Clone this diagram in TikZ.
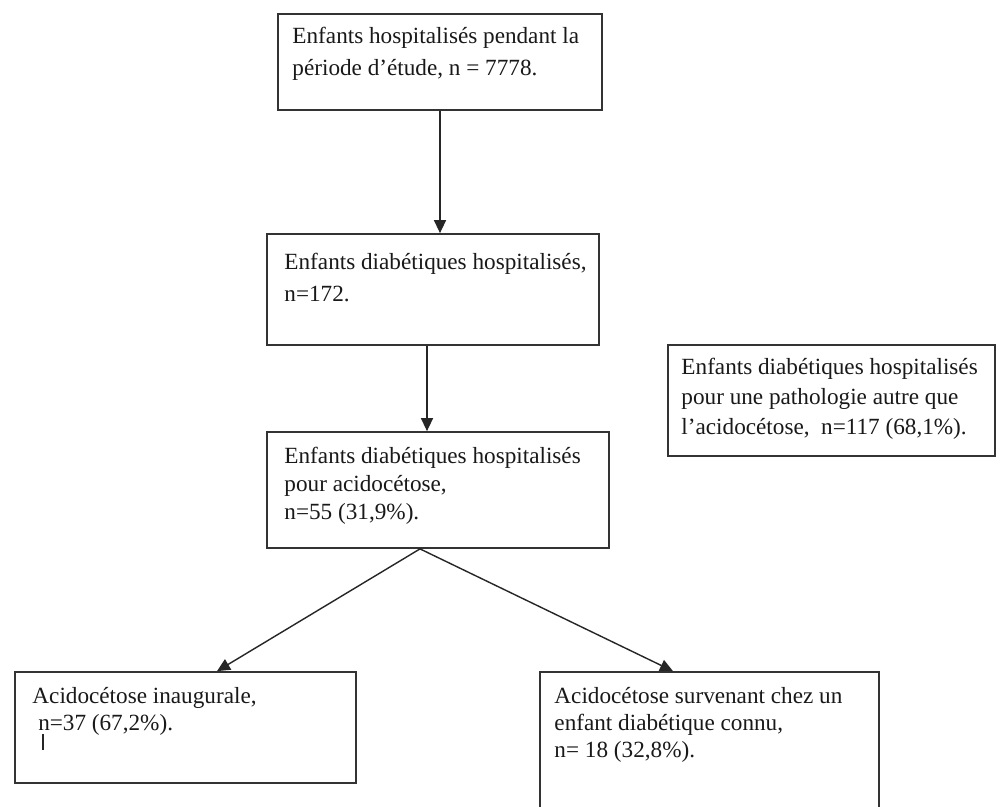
\documentclass[tikz,border=0pt]{standalone}
\usepackage{fontspec}
\setmainfont{Liberation Serif}
\usetikzlibrary{fit,arrows.meta}
\newcommand{\flowbox}[6][]{
    \node[draw=black!80, line width=1pt, inner sep=0pt, fit={(#3) (#4)}] (#2) {};
    \node[anchor=north west, inner sep=0pt, align=left, text=black!90, font=\fontsize{13.2}{16}\selectfont, #1] (#2-text) at ([shift={(#5)}]#2.north west) {#6};
}
\tikzset{flowarrow/.style={draw=black!85, line width=0.8pt, -{Triangle[length=0.26cm,width=0.24cm]}}}

\begin{document}
\begin{tikzpicture}[x=0.02cm,y=-0.02cm]
\useasboundingbox[fill=white] (0,0) rectangle (1000,806);
\flowbox[font=\fontsize{13.2}{18.2}\selectfont]{total}{278,14}{602,110}{15,13.5}{Enfants hospitalisés pendant la\\période d’étude, n = 7778.}
\flowbox[font=\fontsize{13.2}{18.5}\selectfont]{diab}{267,234}{599,345}{18,19.5}{Enfants diabétiques hospitalisés,\\n=172.}
\flowbox[font=\fontsize{13.2}{17}\selectfont]{autre}{668,345}{995,456}{14,13.5}{Enfants diabétiques hospitalisés\\pour une pathologie autre que\\l’acidocétose,\ \ n=117 (68,1\%).}
\flowbox{acido}{267,432}{609,548}{18,15.5}{Enfants diabétiques hospitalisés\\pour acidocétose,\\n=55 (31,9\%).}
\flowbox[font=\fontsize{13.2}{15.4}\selectfont]{inaug}{15,672}{356,783}{18,15.5}{Acidocétose inaugurale,\\\ n=37 (67,2\%).}
\flowbox[font=\fontsize{13.2}{15.4}\selectfont]{connu}{540,672}{879,840}{15,15.5}{Acidocétose survenant chez un\\enfant diabétique connu,\\n= 18 (32,8\%).}
% cursor mark
\draw[line width=1.5pt, black!85] (43,734) -- (43,750);
% arrows
\coordinate (split) at ([xshift=-0.36cm]acido.south);
\draw[flowarrow] (total.south) -- (total.south |- diab.north);
\draw[flowarrow] ([xshift=-0.12cm]diab.south) -- ([xshift=-0.12cm]diab.south |- acido.north);
\draw[flowarrow] (split) -- ([xshift=0.63cm]inaug.north);
\draw[flowarrow] (split) -- ([xshift=-0.73cm]connu.north);
\end{tikzpicture}
\end{document}
